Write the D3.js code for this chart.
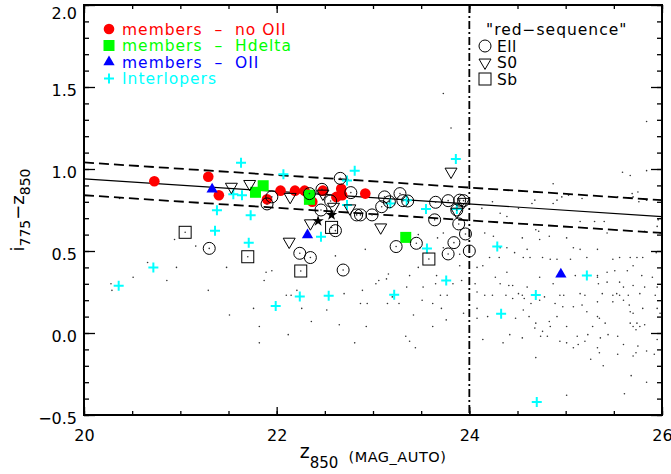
<!DOCTYPE html>
<html>
<head>
<meta charset="utf-8">
<script src="https://cdn.jsdelivr.net/npm/d3@7"></script>
<style>
body { margin: 0; background: #fff; }
text { font-family: "DejaVu Sans", sans-serif; }
</style>
</head>
<body>
<div id="chart"></div>
<script>
// members without OII (red filled circles)
const membersNoOII = [[20.73,0.925],[21.29,0.953],[21.40,0.84],[21.90,0.815],[22.04,0.868],[22.19,0.868],
    [22.29,0.868],[22.37,0.80],[22.48,0.868],[22.67,0.88],[22.62,0.83],[22.68,0.84],[22.92,0.85]];
// members with Hdelta (green squares)
const membersHdelta = [[21.86,0.898],[21.78,0.858],[22.34,0.84],[22.34,0.815],[23.34,0.583]];
// members with OII (blue triangles)
const membersOII = [[21.33,0.876],[22.32,0.598],[24.95,0.358]];
// interlopers (cyan crosses)
const interlopers = [[21.63,1.038],[20.36,0.288],[20.72,0.40],[21.38,0.748],[21.36,0.624],[21.55,0.846],
    [21.64,0.84],[21.73,0.718],[21.71,0.551],[21.99,0.165],[22.24,0.222],[22.54,0.227],[22.46,0.587],
    [22.07,0.968],[22.73,0.93],[22.81,0.99],[22.73,0.78],[23.86,1.061],[23.18,0.79],[23.55,0.756],
    [23.87,0.756],[23.35,0.81],[23.56,0.516],[24.29,0.527],[25.22,0.35],[23.76,0.32],[23.22,0.233],
    [24.69,0.232],[24.33,0.118],[24.70,-0.42]];
// red-sequence morphologies
const ellipticals = [[21.30,0.516],[21.90,0.787],[21.95,0.83],[22.24,0.486],[22.35,0.46],[22.69,0.384],
    [22.47,0.876],[22.66,0.943],[22.56,0.805],[22.46,0.75],[22.61,0.624],[22.77,0.856],[22.83,0.72],
    [22.34,0.85],[22.87,0.72],[22.99,0.72],[23.09,0.77],[23.12,0.83],[23.17,0.80],[23.28,0.85],
    [23.31,0.807],[23.36,0.805],[23.65,0.797],[23.64,0.69],[23.78,0.807],[23.90,0.81],[23.94,0.807],
    [23.87,0.75],[23.89,0.665],[23.96,0.604],[23.84,0.551],[23.78,0.482],[24.0,0.50],[23.45,0.547],[23.24,0.527]];
const lenticulars = [[21.53,0.892],[21.72,0.909],[22.14,0.83],[22.13,0.557],[22.35,0.669],[22.48,0.85],
    [22.59,0.77],[22.76,0.76],[23.08,0.644],[23.81,0.984],[23.87,0.74],[23.94,0.80]];
const spirals = [[21.05,0.614],[21.70,0.465],[22.25,0.378],[22.57,0.644],[23.58,0.451]];
const stars = [[22.43,0.683],[22.57,0.72]];
// field galaxies (small dots)
const field = [[20.37,0.82],[20.94,0.57],[21.16,0.53],[20.66,0.43],[20.96,0.40],[20.51,0.34],[20.28,0.30],
    [20.29,0.26],[20.86,0.32],[21.29,0.26],[21.48,0.40],[21.51,0.11],[21.76,0.15],[21.82,0.04],[21.82,-0.06],
    [21.89,0.37],[21.95,0.38],[21.87,0.32],[22.10,0.23],[22.12,-0.01],[22.15,0.23],[22.21,0.26],[22.26,0.15],
    [22.36,0.07],[22.52,0.14],[22.61,0.47],[22.65,0.05],[22.70,0.24],[22.81,-0.06],[22.87,0.18],[22.89,0.26],
    [22.93,0.04],[22.94,0.18],[23.03,0.30],[23.06,0.32],[23.14,0.33],[23.16,0.36],[23.15,0.18],[23.20,0.22],
    [23.27,0.18],[23.34,-0.02],[23.38,-0.05],[23.44,-0.09],[23.42,0.11],[23.62,0.04],[23.76,0.08],[23.62,0.18],
    [23.94,0.12],[23.35,0.28],[23.52,0.28],[23.65,0.30],[23.77,0.23],[23.70,0.23],[23.51,0.20],[23.71,0.15],
    [23.47,0.60],[23.49,0.52],[23.67,0.58],[23.73,0.61],[23.73,0.52],[23.90,0.48],[23.90,0.41],[23.47,0.40],
    [23.38,0.35],[23.66,0.35],[23.92,0.32],[23.83,0.30],[22.92,0.51],[23.73,1.46],[23.81,1.25],[25.84,1.29],
    [25.59,0.98],[25.67,0.96],[25.84,0.99],[24.87,0.91],[24.68,0.81],[24.65,0.79],[24.87,0.79],[24.91,0.81],
    [24.96,0.83],[25.03,0.84],[25.17,0.82],[24.24,0.80],[24.13,0.76],[24.32,0.73],[24.39,0.71],[24.51,0.76],
    [24.69,0.63],[24.72,0.62],[25.15,0.68],[25.30,0.68],[25.40,0.68],[25.43,0.61],[25.54,0.83],[25.70,0.83],
    [25.76,0.80],[25.84,0.81],[25.75,0.86],[25.69,0.85],[25.96,0.69],[25.95,0.65],[25.82,0.62],[25.98,0.61],
    [24.16,0.61],[24.25,0.59],[24.55,0.58],[24.32,0.52],[24.39,0.52],[24.47,0.49],[24.60,0.51],[24.73,0.57],
    [24.83,0.59],[25.01,0.58],[25.08,0.52],[25.15,0.51],[25.22,0.46],[25.33,0.51],[25.49,0.45],[25.56,0.46],
    [25.67,0.46],[25.74,0.46],[25.80,0.46],[25.94,0.49],[25.70,0.41],[25.64,0.38],[25.51,0.38],[25.43,0.37],
    [25.33,0.35],[25.10,0.35],[25.05,0.45],[24.91,0.45],[24.84,0.45],[24.76,0.46],[24.63,0.46],[24.56,0.46],
    [24.31,0.46],[24.21,0.46],[24.14,0.41],[24.08,0.40],[24.39,0.37],[24.27,0.34],[24.32,0.30],[24.45,0.29],
    [24.60,0.28],[24.73,0.34],[24.87,0.30],[25.33,0.34],[25.43,0.31],[25.56,0.31],[25.70,0.29],[25.79,0.35],
    [25.90,0.34],[24.06,0.30],[24.08,0.25],[24.16,0.23],[24.24,0.23],[24.41,0.29],[24.38,0.23],[24.45,0.21],
    [24.51,0.24],[24.55,0.23],[24.57,0.21],[24.64,0.18],[24.56,0.14],[24.62,0.10],[24.78,0.22],[24.73,0.20],
    [24.89,0.18],[24.94,0.23],[24.98,0.23],[24.97,0.16],[24.91,0.10],[24.69,0.06],[24.68,0.03],[24.76,0.01],
    [24.83,0.07],[24.84,0.04],[25.01,0.04],[25.15,0.24],[25.20,0.23],[25.08,0.16],[25.17,0.17],[25.34,0.30],
    [25.38,0.24],[25.33,0.19],[25.49,0.23],[25.53,0.24],[25.56,0.23],[25.65,0.23],[25.60,0.28],[25.77,0.24],
    [25.82,0.28],[25.95,0.28],[25.93,0.23],[25.49,0.19],[25.60,0.20],[25.66,0.17],[25.67,0.13],[25.70,0.12],
    [25.80,0.15],[25.95,0.15],[25.98,0.12],[25.22,0.13],[25.33,0.10],[25.35,0.09],[25.41,0.06],[25.28,0.04],
    [25.44,-0.01],[25.36,-0.03],[25.23,-0.01],[25.12,-0.02],[25.20,-0.05],[25.13,-0.07],[25.08,-0.09],
    [25.33,-0.09],[25.35,-0.12],[25.26,-0.16],[25.39,-0.20],[25.54,-0.13],[25.60,-0.07],[25.70,-0.14],
    [25.73,-0.12],[25.75,-0.08],[25.84,-0.11],[25.95,-0.04],[25.67,0.06],[25.70,0.04],[25.73,0.02],[25.77,0.04],
    [25.74,0.06],[25.82,0.05],[25.54,-0.02],[25.92,-0.13],[25.68,-0.26],[25.84,-0.30],[25.61,-0.37],
    [25.01,-0.38],[24.69,-0.15],[24.42,-0.01],[24.55,-0.03],[24.35,-0.06],[24.14,-0.04],[24.08,0.15],
    [24.08,0.09],[24.19,0.10],[24.48,0.09],[24.81,-0.02],[24.74,-0.02],[24.94,-0.05],[25.01,-0.06]];
// red-sequence fit and +/- 0.1 band
const fitX = [20, 26];
const fitY = [0.94, 0.71];
const fitUpper = [1.04, 0.81];
const fitLower = [0.84, 0.61];
const magLimit = 24;
const xTicks = [20, 22, 24, 26];
const yTicks = [-0.5, 0, 0.5, 1.0, 1.5, 2.0];

const w = 671, h = 474;
const margin = {top: 5, right: 9, bottom: 59, left: 84};
const xScale = d3.scaleLinear().domain([20, 26]).range([margin.left, w - margin.right]);
const yScale = d3.scaleLinear().domain([-0.5, 2.0]).range([h - margin.bottom, margin.top]);

const svg = d3.select("#chart").append("svg")
    .attr("width", w)
    .attr("height", h);

// field dots
svg.append("g").selectAll("circle")
    .data(field)
    .enter()
    .append("circle")
    .attr("cx", d => xScale(d[0]))
    .attr("cy", d => yScale(d[1]))
    .attr("r", 0.8)
    .attr("fill", "#333");

// fit lines
const line = d3.line().x(d => xScale(d[0])).y(d => yScale(d[1]));
svg.append("path").attr("d", line(fitX.map((x, i) => [x, fitY[i]])))
    .attr("fill", "none").attr("stroke", "#000").attr("stroke-width", 1.2);
[fitUpper, fitLower].forEach(arr => {
    svg.append("path").attr("d", line(fitX.map((x, i) => [x, arr[i]])))
        .attr("fill", "none").attr("stroke", "#000").attr("stroke-width", 1.8)
        .attr("stroke-dasharray", "10,5");
});
svg.append("line")
    .attr("x1", xScale(magLimit)).attr("x2", xScale(magLimit))
    .attr("y1", yScale(2.0)).attr("y2", yScale(-0.5))
    .attr("stroke", "#000").attr("stroke-width", 1.8)
    .attr("stroke-dasharray", "8,3,2,3");

// symbol helpers
const tri = d3.symbol().type(d3.symbolTriangle);
function place(g, data, draw) {
    return g.selectAll(null).data(data).enter().append("g")
        .attr("transform", d => "translate(" + xScale(d[0]) + "," + yScale(d[1]) + ")")
        .each(function () { draw(d3.select(this)); });
}
const drawRed = s => s.append("circle").attr("r", 5.3).attr("fill", "#f00");
const drawGreen = s => s.append("rect").attr("x", -5.5).attr("y", -5.5).attr("width", 11).attr("height", 11).attr("fill", "#0f0");
const drawBlue = s => s.append("path").attr("d", tri.size(55)()).attr("fill", "#00f");
const drawCross = s => s.append("path").attr("d", "M-5,0H5M0,-5V5").attr("stroke", "#0ff").attr("stroke-width", 2);
const drawEll = s => {
    s.append("circle").attr("r", 6).attr("fill", "none").attr("stroke", "#000").attr("stroke-width", 1);
    s.append("circle").attr("r", 0.8).attr("fill", "#333");
};
const drawS0 = s => s.append("path").attr("d", tri.size(62)()).attr("transform", "rotate(180)")
    .attr("fill", "none").attr("stroke", "#000").attr("stroke-width", 1);
const drawSb = s => {
    s.append("rect").attr("x", -6).attr("y", -6).attr("width", 12).attr("height", 12)
        .attr("fill", "none").attr("stroke", "#000").attr("stroke-width", 1);
    s.append("circle").attr("r", 0.8).attr("fill", "#333");
};
const drawStar = s => s.append("path").attr("d", d3.symbol().type(d3.symbolStar).size(40)()).attr("fill", "#000");

const marks = svg.append("g");
place(marks, membersNoOII, drawRed);
place(marks, membersHdelta, drawGreen);
place(marks, membersOII, drawBlue);
place(marks, interlopers, drawCross);
place(marks, ellipticals, drawEll);
place(marks, lenticulars, drawS0);
place(marks, spirals, drawSb);
place(marks, stars, drawStar);

// axes: ticks inward on all four sides
function addAxis(axis, transform) {
    const g = svg.append("g").attr("transform", transform).call(axis);
    g.select(".domain").remove();
    g.selectAll("line").attr("stroke", "#000").attr("stroke-width", 1.3);
    g.selectAll("text").attr("fill", "#000").style("font-family", "DejaVu Sans").style("font-size", "16px");
    return g;
}
const xMinor = d3.range(20, 26.01, 0.5);
const yMinor = d3.range(-0.5, 2.01, 0.1);
const atBottom = "translate(0," + yScale(-0.5) + ")";
const atTop = "translate(0," + yScale(2.0) + ")";
const atLeft = "translate(" + xScale(20) + ",0)";
const atRight = "translate(" + xScale(26) + ",0)";
addAxis(d3.axisBottom(xScale).tickValues(xMinor).tickSize(-4).tickFormat(""), atBottom);
addAxis(d3.axisBottom(xScale).tickValues(xTicks).tickSize(-8).tickPadding(15).tickFormat(d3.format("d")), atBottom);
addAxis(d3.axisTop(xScale).tickValues(xMinor).tickSize(-4).tickFormat(""), atTop);
addAxis(d3.axisTop(xScale).tickValues(xTicks).tickSize(-8).tickFormat(""), atTop);
addAxis(d3.axisLeft(yScale).tickValues(yMinor).tickSize(-5).tickFormat(""), atLeft);
const yAx = addAxis(d3.axisLeft(yScale).tickValues(yTicks).tickSize(-11).tickPadding(7).tickFormat(d3.format(".1f")), atLeft);
yAx.selectAll("text").attr("dy", d => d === 2 ? "0.85em" : "0.55em");
addAxis(d3.axisRight(yScale).tickValues(yMinor).tickSize(-5).tickFormat(""), atRight);
addAxis(d3.axisRight(yScale).tickValues(yTicks).tickSize(-11).tickFormat(""), atRight);

// frame
svg.append("rect")
    .attr("x", xScale(20)).attr("y", yScale(2.0))
    .attr("width", xScale(26) - xScale(20)).attr("height", yScale(-0.5) - yScale(2.0))
    .attr("fill", "none").attr("stroke", "#000").attr("stroke-width", 2);

// axis titles
const xt = svg.append("text")
    .attr("x", (xScale(20) + xScale(26)) / 2).attr("y", 458)
    .attr("text-anchor", "middle").attr("xml:space", "preserve");
xt.append("tspan").style("font-size", "19px").text("z");
xt.append("tspan").style("font-size", "15px").attr("dy", 10).text("850");
xt.append("tspan").style("font-size", "14.5px").attr("dy", -6).style("letter-spacing", "0.5px").text("  (MAG_AUTO)");

const yt = svg.append("text")
    .attr("transform", "translate(24," + (yScale(0.75)) + ") rotate(-90)")
    .attr("text-anchor", "middle");
yt.append("tspan").style("font-size", "18px").text("i");
yt.append("tspan").style("font-size", "14px").attr("dy", 6).text("775");
yt.append("tspan").style("font-size", "18px").attr("dy", -6).text("\u2212z");
yt.append("tspan").style("font-size", "14px").attr("dy", 6).text("850");

// legend: members / interlopers
const legend1 = [
    {label: "members  \u2013  no OII", color: "#f00", draw: drawRed},
    {label: "members  \u2013  Hdelta", color: "#0f0", draw: drawGreen},
    {label: "members  \u2013  OII", color: "#00f", draw: drawBlue},
    {label: "Interlopers", color: "#0ff", draw: drawCross}
];
legend1.forEach((d, i) => {
    const g = svg.append("g").attr("transform", "translate(109," + (29 + i * 16.5) + ")");
    d.draw(g);
    g.append("text").attr("x", 13).attr("y", 5.5).attr("fill", d.color)
        .attr("xml:space", "preserve").style("font-size", "15.5px").style("letter-spacing", "1px")
        .text(d.label);
});

// legend: red-sequence morphologies
svg.append("text").attr("x", 486).attr("y", 34.5).attr("fill", "#000")
    .style("font-size", "15.5px").style("letter-spacing", "1px").text("\"red\u2212sequence\"");
const legend2 = ["Ell", "S0", "Sb"];
legend2.forEach((label, i) => {
    const g = svg.append("g").attr("transform", "translate(485," + (46 + i * 16.5) + ")");
    if (i === 0) g.append("circle").attr("r", 6).attr("fill", "none").attr("stroke", "#000");
    else if (i === 1) drawS0(g);
    else g.append("rect").attr("x", -6).attr("y", -6).attr("width", 12).attr("height", 12)
        .attr("fill", "none").attr("stroke", "#000");
    g.append("text").attr("x", 12).attr("y", 5.5).attr("fill", "#000")
        .style("font-size", "15.5px").style("letter-spacing", "0.5px").text(label);
});
</script>
</body>
</html>
